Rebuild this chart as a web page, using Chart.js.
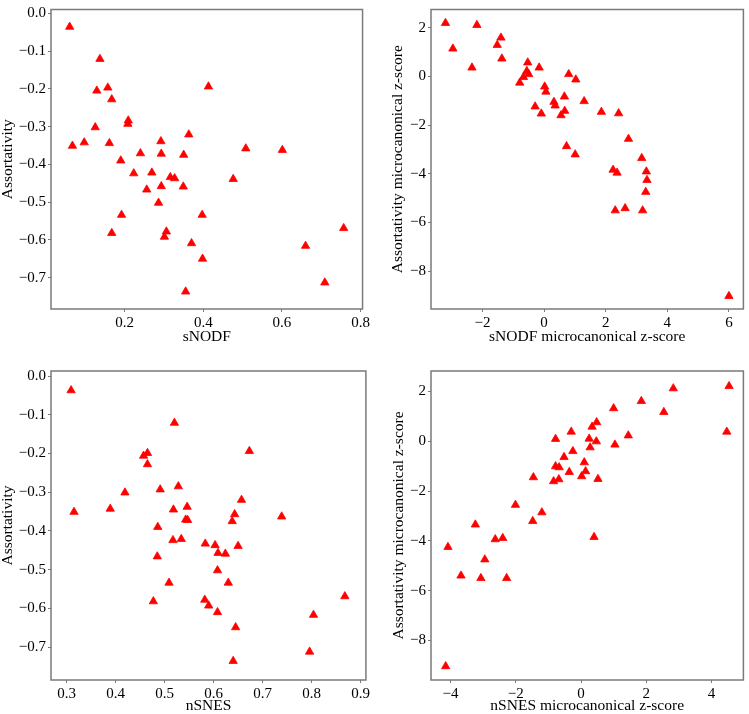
<!DOCTYPE html>
<html>
<head>
<meta charset="utf-8">
<script src="https://cdn.jsdelivr.net/npm/chart.js@4"></script>
<style>
  body { margin:0; background:#fff; }
  canvas { position:absolute; }
</style>
</head>
<body>
<canvas id="c1" width="374" height="357" style="left:0;top:0"></canvas>
<canvas id="c2" width="375" height="357" style="left:374px;top:0"></canvas>
<canvas id="c3" width="374" height="357" style="left:0;top:357px"></canvas>
<canvas id="c4" width="375" height="357" style="left:374px;top:357px"></canvas>
<script>
// top-left: sNODF vs assortativity
const snodf = [0.060, 0.137, 0.129, 0.157, 0.167, 0.413, 0.209, 0.208, 0.125, 0.067,
  0.097, 0.161, 0.363, 0.292, 0.293, 0.240, 0.350, 0.508, 0.601, 0.190,
  0.223, 0.269, 0.316, 0.327, 0.476, 0.293, 0.349, 0.256, 0.286, 0.397,
  0.192, 0.167, 0.306, 0.301, 0.757, 0.370, 0.660, 0.398, 0.709, 0.355];
const assortA = [-0.036, -0.121, -0.205, -0.197, -0.228, -0.194, -0.284, -0.293, -0.302, -0.351,
  -0.342, -0.344, -0.321, -0.339, -0.372, -0.371, -0.375, -0.358, -0.362, -0.390,
  -0.424, -0.422, -0.434, -0.437, -0.439, -0.458, -0.459, -0.467, -0.502, -0.534,
  -0.534, -0.582, -0.578, -0.592, -0.569, -0.609, -0.616, -0.650, -0.713, -0.737];

// top-right: z-scores (sNODF)
const snodfZ = [-3.20, -2.18, -2.96, -1.40, -1.52, -1.37, -2.34, -0.53, -0.16, -0.56,
  -0.50, -0.67, -0.79, 0.80, 1.03, 0.02, 0.06, 0.66, 1.30, 0.32,
  0.36, -0.29, 0.67, -0.09, 0.55, 1.86, 2.42, 2.74, 0.73, 1.01,
  3.17, 2.24, 2.37, 3.32, 3.34, 3.30, 2.31, 2.63, 3.20, 6.00];
const assortZA = [2.19, 2.11, 1.14, 1.59, 1.29, 0.73, 0.36, 0.57, 0.36, 0.22,
  0.09, -0.03, -0.26, 0.09, -0.13, -0.42, -0.63, -0.83, -1.02, -1.05,
  -1.20, -1.24, -1.42, -1.53, -1.60, -1.46, -1.52, -2.57, -2.87, -3.21,
  -3.36, -3.84, -3.96, -3.91, -4.26, -4.75, -5.51, -5.42, -5.51, -9.03];

// bottom-left: nSNES vs assortativity
const nsnes = [0.309, 0.315, 0.520, 0.673, 0.465, 0.457, 0.465, 0.419, 0.389, 0.491,
  0.528, 0.518, 0.546, 0.543, 0.547, 0.657, 0.643, 0.638, 0.739, 0.486,
  0.517, 0.534, 0.583, 0.603, 0.650, 0.609, 0.624, 0.485, 0.608, 0.509,
  0.630, 0.477, 0.582, 0.590, 0.608, 0.868, 0.804, 0.645, 0.796, 0.640];
const assortB = [-0.037, -0.351, -0.121, -0.194, -0.199, -0.206, -0.228, -0.301, -0.343, -0.293,
  -0.285, -0.345, -0.338, -0.371, -0.372, -0.320, -0.357, -0.375, -0.363, -0.390,
  -0.424, -0.421, -0.433, -0.437, -0.439, -0.457, -0.459, -0.466, -0.502, -0.534,
  -0.534, -0.582, -0.578, -0.593, -0.610, -0.569, -0.617, -0.649, -0.712, -0.736];

// bottom-right: z-scores (nSNES)
const nsnesZ = [4.54, 2.83, 1.85, 1.00, 2.54, 0.48, 0.34, -0.30, 4.47, -0.78,
  0.25, 0.47, 1.45, 1.04, 0.28, -0.25, -0.52, 0.10, -0.78, -0.67,
  -0.36, 0.14, 0.02, -1.46, 0.52, -0.68, -0.84, -2.01, -1.20, -1.48,
  -3.24, 0.40, -2.63, -2.40, -4.08, -2.95, -3.68, -3.07, -2.28, -4.15];
const assortZB = [2.21, 2.12, 1.61, 1.32, 1.17, 0.76, 0.58, 0.38, 0.38, 0.09,
  0.10, -0.01, 0.23, -0.14, -0.25, -0.40, -0.64, -0.85, -1.01, -1.05,
  -1.24, -1.21, -1.41, -1.45, -1.52, -1.53, -1.61, -2.56, -2.86, -3.21,
  -3.35, -3.85, -3.94, -3.89, -4.25, -4.75, -5.40, -5.50, -5.50, -9.04];

// tick positions
const assortTicks = [0, -0.1, -0.2, -0.3, -0.4, -0.5, -0.6, -0.7];
const zTicks = [2, 0, -2, -4, -6, -8];
const snodfTicks = [0.2, 0.4, 0.6, 0.8];
const snodfZTicks = [-2, 0, 2, 4, 6];
const nsnesTicks = [0.3, 0.4, 0.5, 0.6, 0.7, 0.8, 0.9];
const nsnesZTicks = [-4, -2, 0, 2, 4];

const MINUS = '\u2212';
const fmt1 = v => v.toFixed(1).replace('-', MINUS);
const fmt0 = v => String(v).replace('-', MINUS);

const tickFont = { family: 'Liberation Serif', size: 15, lineHeight: 1 };
const titleFont = { family: 'Liberation Serif', size: 15.5, lineHeight: 1 };
const edge = '#7a7a7a';

// box round the plot area (all four spines)
const frame = {
  id: 'frame',
  afterDraw(chart) {
    const { ctx, chartArea: a } = chart;
    ctx.save();
    ctx.strokeStyle = edge;
    ctx.lineWidth = 1.5;
    ctx.strokeRect(a.left, a.top, a.right - a.left, a.bottom - a.top);
    ctx.restore();
  }
};

function makeChart(id, xs, ys, o) {
  const ctx = document.getElementById(id).getContext('2d');
  return new Chart(ctx, {
    type: 'scatter',
    data: {
      datasets: [{
        data: xs.map((x, i) => ({ x, y: ys[i] })),
        pointStyle: 'triangle', pointRadius: 4.8,
        backgroundColor: '#ff0000', borderColor: '#ff0000', borderWidth: 0.8
      }]
    },
    options: {
      responsive: false, animation: false,
      layout: { padding: { top: o.padTop, right: o.padRight, left: 0, bottom: 0 } },
      plugins: { legend: { display: false }, tooltip: { enabled: false } },
      scales: {
        x: {
          min: o.xMin, max: o.xMax,
          afterFit: s => { s.height = o.xH; },
          afterBuildTicks: s => { s.ticks = o.xTicks.map(v => ({ value: v })); },
          ticks: { callback: o.xFmt, font: tickFont, color: '#000', padding: 4, maxRotation: 0, autoSkip: false },
          grid: { drawOnChartArea: false, tickLength: 3, color: edge },
          border: { display: false },
          title: { display: true, text: o.xTitle, font: titleFont, color: '#000', padding: { top: 0, bottom: o.xTitlePad } }
        },
        y: {
          min: o.yMin, max: o.yMax,
          afterFit: s => { s.width = o.yW; },
          afterBuildTicks: s => { s.ticks = o.yTicks.map(v => ({ value: v })); },
          ticks: { callback: o.yFmt, font: tickFont, color: '#000', padding: 2, autoSkip: false },
          grid: { drawOnChartArea: false, tickLength: 3, color: edge },
          border: { display: false },
          title: { display: true, text: o.yTitle, font: titleFont, color: '#000', padding: { top: o.yTitlePad, bottom: 0 } }
        }
      }
    },
    plugins: [frame]
  });
}

makeChart('c1', snodf, assortA, {
  xMin: 0.0125, xMax: 0.805, yMin: -0.783, yMax: 0.01,
  xTicks: snodfTicks, yTicks: assortTicks, xFmt: fmt1, yFmt: fmt1,
  xTitle: 'sNODF', yTitle: 'Assortativity',
  padTop: 2, padRight: 6, yW: 51, xH: 48, xTitlePad: 12, yTitlePad: 0
});
makeChart('c2', snodfZ, assortZA, {
  xMin: -3.67, xMax: 6.47, yMin: -9.56, yMax: 2.75,
  xTicks: snodfZTicks, yTicks: zTicks, xFmt: fmt0, yFmt: fmt0,
  xTitle: 'sNODF microcanonical z-score', yTitle: 'Assortativity microcanonical z-score',
  padTop: 2, padRight: 2, yW: 57, xH: 48, xTitlePad: 12, yTitlePad: 16
});
makeChart('c3', nsnes, assortB, {
  xMin: 0.268, xMax: 0.911, yMin: -0.785, yMax: 0.013,
  xTicks: nsnesTicks, yTicks: assortTicks, xFmt: fmt1, yFmt: fmt1,
  xTitle: 'nSNES', yTitle: 'Assortativity',
  padTop: 14, padRight: 6, yW: 51, xH: 34, xTitlePad: 0, yTitlePad: 0
});
makeChart('c4', nsnesZ, assortZB, {
  xMin: -4.6, xMax: 4.98, yMin: -9.59, yMax: 2.82,
  xTicks: nsnesZTicks, yTicks: zTicks, xFmt: fmt0, yFmt: fmt0,
  xTitle: 'nSNES microcanonical z-score', yTitle: 'Assortativity microcanonical z-score',
  padTop: 14, padRight: 2, yW: 57, xH: 34, xTitlePad: 0, yTitlePad: 17
});
</script>
</body>
</html>
